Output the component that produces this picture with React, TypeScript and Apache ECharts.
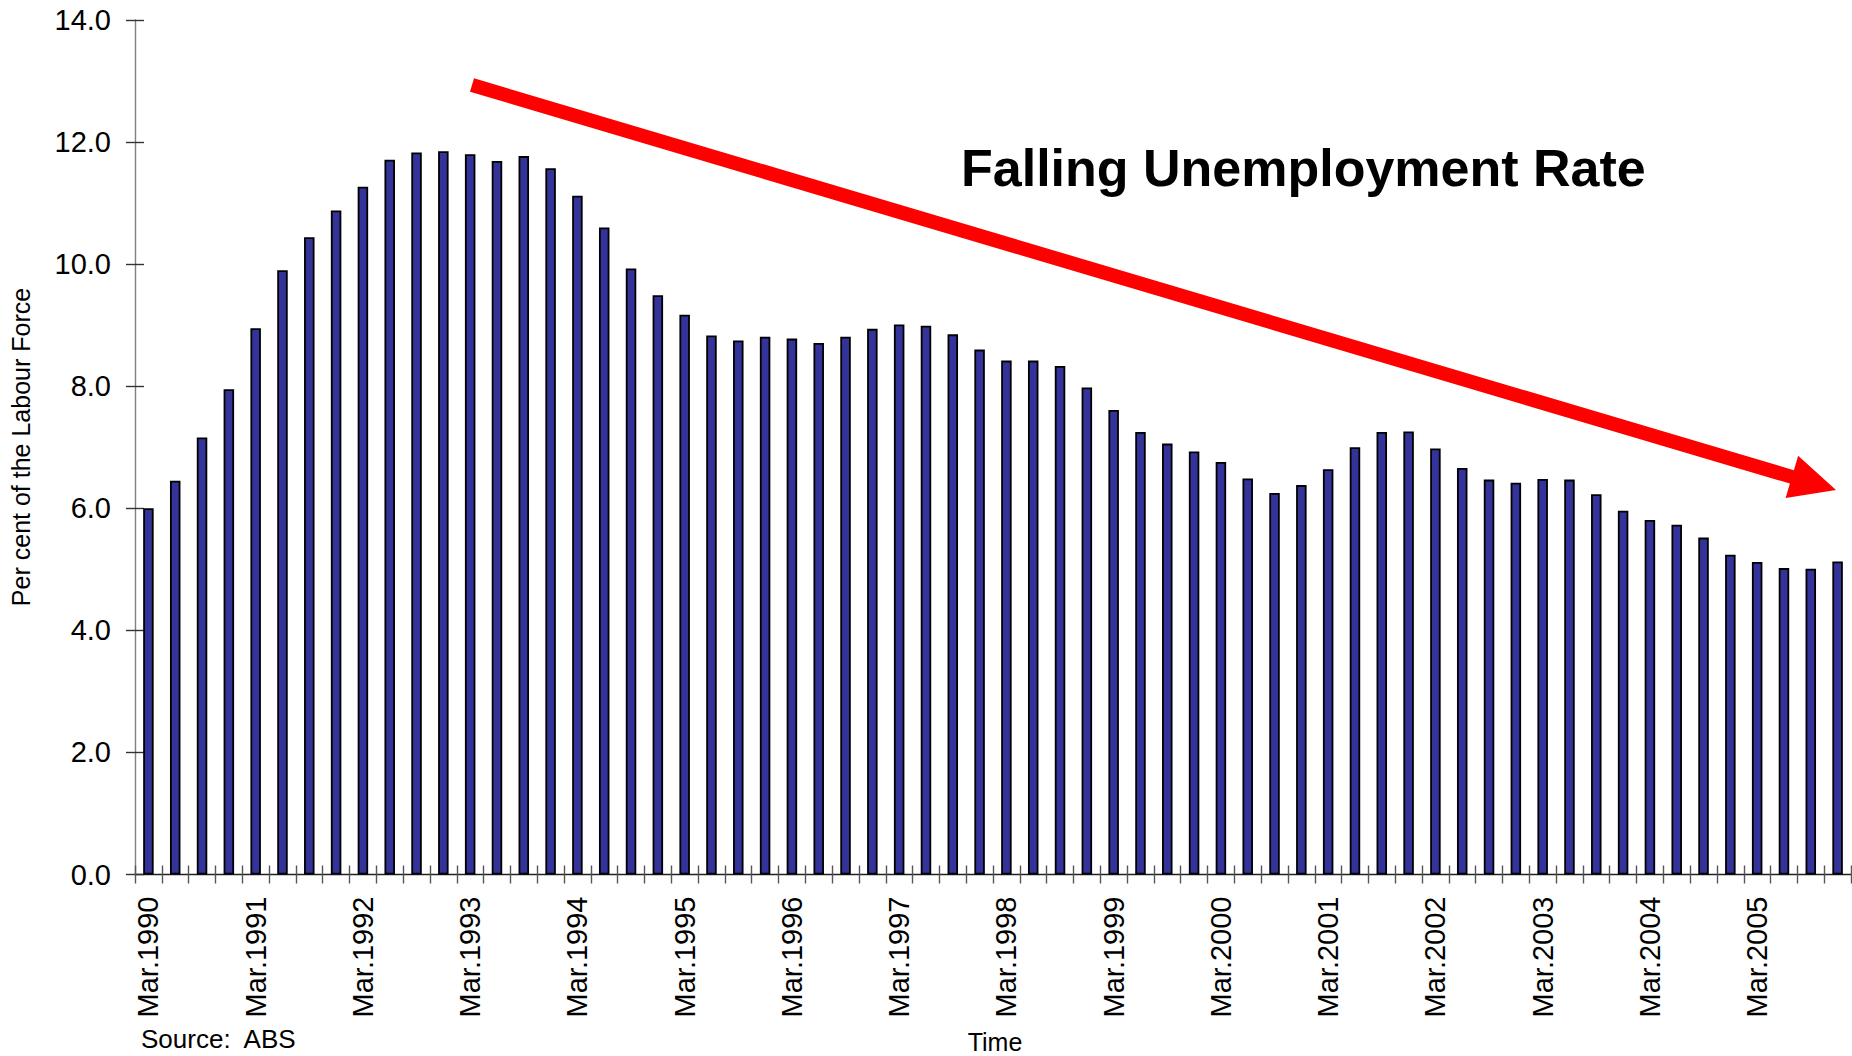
import React, { useEffect, useRef } from "react";
import * as echarts from "echarts";

const years = [1990, 1991, 1992, 1993, 1994, 1995, 1996, 1997, 1998, 1999, 2000, 2001, 2002, 2003, 2004, 2005];
const quarterMonths = ["Mar", "Jun", "Sep", "Dec"];
const categories: string[] = [];
years.forEach((y) => quarterMonths.forEach((m) => categories.push(`${m}.${y}`)));

const unemploymentRate = [
  6.0, 6.45, 7.16, 7.95,
  8.95, 9.9, 10.44, 10.88,
  11.27, 11.71, 11.83, 11.85,
  11.8, 11.69, 11.77, 11.57,
  11.12, 10.6, 9.93, 9.49,
  9.17, 8.83, 8.75, 8.81,
  8.78, 8.71, 8.81, 8.94,
  9.01, 8.99, 8.85, 8.6,
  8.42, 8.42, 8.33, 7.98,
  7.61, 7.25, 7.06, 6.93,
  6.76, 6.49, 6.25, 6.38,
  6.64, 7.0, 7.25, 7.26,
  6.98, 6.66, 6.47, 6.42,
  6.48, 6.47, 6.23, 5.96,
  5.81, 5.73, 5.52, 5.24,
  5.12, 5.02, 5.01, 5.13,
];

const yMin = 0;
const yMax = 14;
const yInterval = 2;

const titleText = "Falling Unemployment Rate";
const yAxisName = "Per cent of the Labour Force";
const xAxisName = "Time";
const sourceText = "Source:  ABS";

const FONT = "'Liberation Sans', Arial, Helvetica, sans-serif";

function arrowPoints(sx: number, sy: number, tx: number, ty: number, shaft: number, headLen: number, headW: number) {
  const dx = tx - sx;
  const dy = ty - sy;
  const len = Math.sqrt(dx * dx + dy * dy);
  const ux = dx / len;
  const uy = dy / len;
  const nx = -uy;
  const ny = ux;
  const bx = tx - headLen * ux;
  const by = ty - headLen * uy;
  const hs = shaft / 2;
  const hw = headW / 2;
  return [
    [sx - hs * nx, sy - hs * ny],
    [bx - hs * nx, by - hs * ny],
    [bx - hw * nx, by - hw * ny],
    [tx, ty],
    [bx + hw * nx, by + hw * ny],
    [bx + hs * nx, by + hs * ny],
    [sx + hs * nx, sy + hs * ny],
  ];
}

export default function App() {
  const ref = useRef<HTMLDivElement>(null);

  useEffect(() => {
    if (!ref.current) return;
    const chart = echarts.init(ref.current, undefined, { renderer: "svg" });

    const grid = { left: 135, top: 20, width: 1716, height: 854.5 };

    const option: any = {
      animation: false,
      backgroundColor: "#ffffff",
      grid,
      xAxis: [
        {
          type: "category",
          data: categories,
          boundaryGap: true,
          axisLine: { show: true, lineStyle: { color: "#222222", width: 1.4 } },
          axisTick: { show: true, interval: 0, length: 9, lineStyle: { color: "#555555", width: 1.4 } },
          axisLabel: {
            interval: 3,
            rotate: 90,
            margin: 22,
            color: "#000000",
            fontSize: 29,
            fontFamily: FONT,
          },
          splitLine: { show: false },
        },
        {
          type: "category",
          data: categories,
          boundaryGap: true,
          position: "bottom",
          axisLine: { show: false },
          axisTick: { show: true, inside: true, interval: 0, length: 9, lineStyle: { color: "#555555", width: 1.4 } },
          axisLabel: { show: false },
          splitLine: { show: false },
        },
      ],
      yAxis: [
        {
          type: "value",
          min: yMin,
          max: yMax,
          interval: yInterval,
          axisLine: { show: true, lineStyle: { color: "#808080", width: 1.4 } },
          axisTick: { show: true, length: 9, lineStyle: { color: "#333333", width: 1.4 } },
          axisLabel: {
            margin: 24,
            color: "#000000",
            fontSize: 29,
            fontFamily: FONT,
            formatter: (v: number) => v.toFixed(1),
          },
          splitLine: { show: false },
        },
        {
          type: "value",
          min: yMin,
          max: yMax,
          interval: yInterval,
          position: "left",
          axisLine: { show: false },
          axisTick: { show: true, inside: true, length: 9, lineStyle: { color: "#333333", width: 1.4 } },
          axisLabel: { show: false },
          splitLine: { show: false },
        },
      ],
      series: [
        {
          type: "bar",
          xAxisIndex: 0,
          yAxisIndex: 0,
          data: unemploymentRate,
          barWidth: 10.5,
          itemStyle: { color: "#333399", borderColor: "#000000", borderWidth: 1.8 },
          silent: true,
        },
      ],
      graphic: [
        {
          type: "polygon",
          shape: { points: arrowPoints(472, 85, 1836, 490, 14, 46, 44) },
          style: { fill: "#ff0000" },
          z: 10,
        },
        {
          type: "text",
          x: 961,
          y: 168,
          style: {
            text: titleText,
            fill: "#000000",
            font: `bold 52px ${FONT}`,
            textAlign: "left",
            textVerticalAlign: "middle",
          },
          z: 11,
        },
        {
          type: "text",
          x: 21,
          y: 447,
          rotation: Math.PI / 2,
          style: {
            text: yAxisName,
            fill: "#000000",
            font: `25px ${FONT}`,
            textAlign: "center",
            textVerticalAlign: "middle",
          },
        },
        {
          type: "text",
          x: 995,
          y: 1042,
          style: {
            text: xAxisName,
            fill: "#000000",
            font: `25px ${FONT}`,
            lineHeight: 25,
            textAlign: "center",
            textVerticalAlign: "middle",
          },
        },
        {
          type: "text",
          x: 141,
          y: 1039,
          style: {
            text: sourceText,
            fill: "#000000",
            font: `26px ${FONT}`,
            textAlign: "left",
            textVerticalAlign: "middle",
          },
        },
      ],
    };

    chart.setOption(option);
    return () => chart.dispose();
  }, []);

  return (
    <div
      ref={ref}
      style={{ position: "absolute", left: 0, top: 0, width: 1852, height: 1056, background: "#ffffff" }}
    />
  );
}
